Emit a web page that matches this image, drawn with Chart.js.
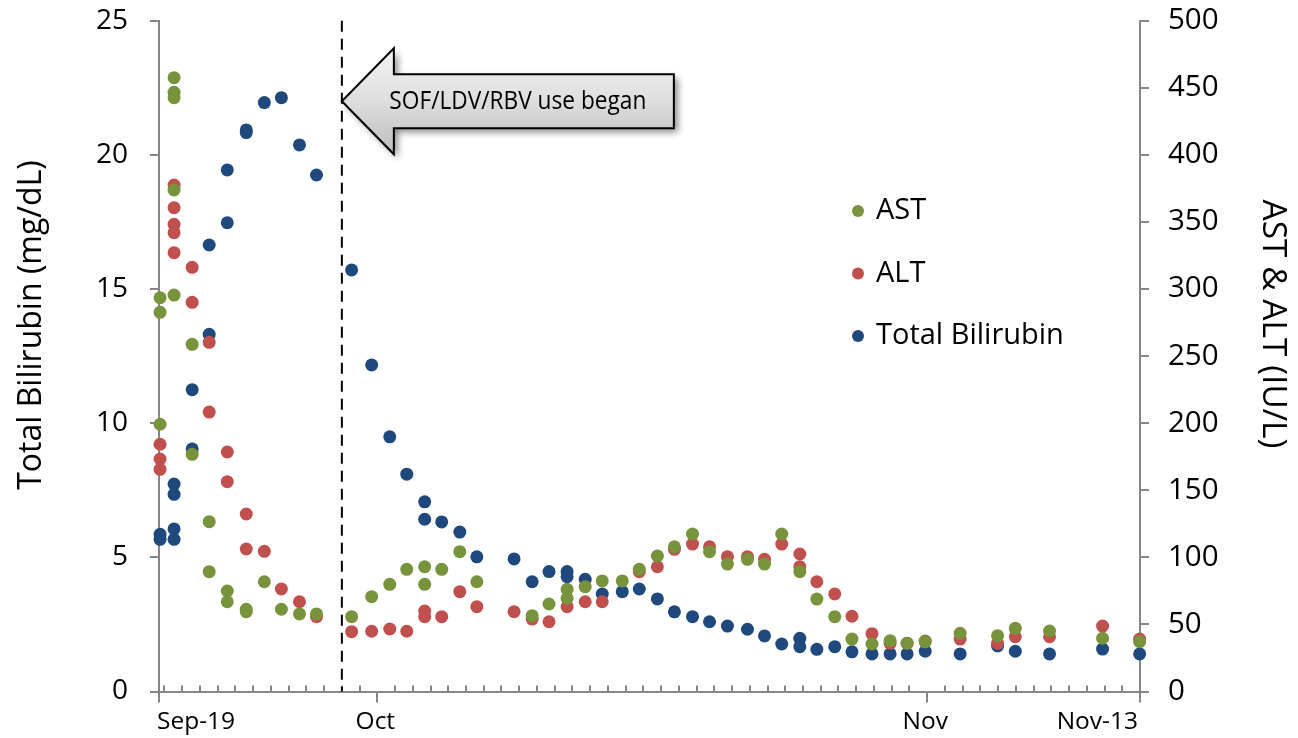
<!DOCTYPE html>
<html>
<head>
<meta charset="utf-8">
<script src="https://cdn.jsdelivr.net/npm/chart.js@4/dist/chart.umd.min.js"></script>
<style>
  html, body { margin: 0; padding: 0; background: #fff; }
  #wrap { width: 1298px; height: 738px; position: relative; }
</style>
</head>
<body>
<div id="wrap"><canvas id="labChart"></canvas></div>
<script>
// x values are days counted from Oct 1 (Oct 1 = 0)
const astDays = [-12.25, -12.25, -12.25, -11.46, -11.46, -11.46, -11.46, -11.46, -10.44, -10.44, -9.48, -9.48, -8.46, -8.46, -7.39, -7.39, -6.37, -5.41, -4.39, -3.43, -1.45, -0.32, 0.70, 1.66, 2.67, 2.67, 3.63, 4.65, 5.61, 8.73, 9.68, 10.70, 10.70, 11.72, 12.68, 13.81, 14.77, 15.79, 16.75, 17.77, 18.73, 19.74, 20.87, 21.83, 22.80, 23.82, 24.78, 25.79, 26.76, 27.89, 28.91, 29.87, 30.89, 32.86, 34.97, 35.97, 37.90, 40.89, 42.98];
const astValues = [293.5, 282.6, 199.2, 457.5, 446.6, 442.6, 373.8, 295.5, 258.8, 176.8, 126.6, 89.3, 74.9, 66.9, 61.3, 59.5, 81.8, 61.3, 57.8, 57.8, 55.8, 70.7, 79.9, 91.1, 93.0, 79.9, 91.1, 104.2, 81.8, 56.5, 65.2, 76.2, 69.5, 78.1, 82.4, 82.4, 91.1, 101.0, 107.9, 117.4, 104.2, 95.0, 98.5, 95.0, 117.4, 89.3, 68.9, 55.8, 39.1, 35.4, 37.9, 36.0, 37.0, 43.4, 41.6, 47.1, 45.1, 39.7, 37.1];

const altDays = [-12.25, -12.25, -12.25, -11.46, -11.46, -11.46, -11.46, -11.46, -10.44, -10.44, -9.48, -9.48, -8.46, -8.46, -7.39, -7.39, -6.37, -5.41, -4.39, -3.43, -1.45, -0.32, 0.70, 1.66, 2.67, 2.67, 3.63, 4.65, 5.61, 7.71, 8.73, 9.68, 10.70, 11.72, 12.68, 14.77, 15.79, 16.75, 17.77, 18.73, 19.74, 20.87, 21.83, 22.80, 23.82, 23.82, 24.78, 25.79, 26.76, 27.89, 28.91, 29.87, 30.89, 32.86, 34.97, 35.97, 37.90, 40.89, 42.98];
const altValues = [184.3, 173.3, 165.6, 377.5, 360.6, 348.2, 342.0, 327.1, 316.2, 290.1, 260.3, 208.3, 178.5, 156.4, 132.3, 106.2, 104.5, 76.4, 66.9, 55.8, 44.6, 44.9, 46.6, 44.9, 60.0, 55.8, 55.8, 74.4, 63.2, 59.5, 54.0, 52.0, 63.2, 66.9, 66.9, 89.3, 93.0, 106.0, 109.9, 107.9, 100.5, 100.5, 98.5, 109.9, 102.5, 93.0, 81.8, 72.7, 56.1, 43.1, 35.9, 35.9, 37.6, 39.1, 35.9, 40.8, 40.8, 48.8, 39.1];

const tbDays = [-12.25, -12.25, -11.46, -11.46, -11.46, -11.46, -10.44, -10.44, -9.48, -9.48, -8.46, -8.46, -7.39, -7.39, -6.37, -5.41, -4.39, -3.43, -1.45, -0.32, 0.70, 1.66, 2.67, 2.67, 3.63, 4.65, 5.61, 7.71, 8.73, 9.68, 10.70, 10.70, 11.72, 12.68, 13.81, 14.77, 15.79, 16.75, 17.77, 18.73, 19.74, 20.87, 21.83, 22.80, 23.82, 23.82, 24.78, 25.79, 26.76, 27.89, 28.91, 29.87, 30.89, 32.86, 34.97, 35.97, 37.90, 40.89, 42.98];
const tbValues = [5.86, 5.67, 7.73, 7.35, 6.06, 5.67, 11.25, 9.04, 16.64, 13.31, 19.44, 17.47, 20.93, 20.83, 21.95, 22.13, 20.37, 19.25, 15.71, 12.17, 9.49, 8.10, 7.07, 6.42, 6.32, 5.94, 5.02, 4.94, 4.09, 4.47, 4.47, 4.28, 4.18, 3.63, 3.72, 3.82, 3.45, 2.97, 2.79, 2.60, 2.44, 2.32, 2.07, 1.77, 1.98, 1.67, 1.57, 1.67, 1.48, 1.40, 1.40, 1.40, 1.50, 1.40, 1.70, 1.50, 1.40, 1.58, 1.40];

const xTickDays = [-12.31, 0, 31, 43];
const xTickLabels = ['Sep-19', 'Oct', 'Nov', 'Nov-13'];
const treatmentStartDay = -2;   // Sep 29
const noteText = 'SOF/LDV/RBV use began';

const axisGray = '#868686';
const font = 'Open Sans';

function toPoints(days, values) {
  return days.map((d, i) => ({ x: d, y: values[i] }));
}

// fixed axis widths so the plot area sits where it does in the original
function fixWidth(w) {
  return (scale) => {
    scale.width = w;
    scale.paddingTop = 0;
    scale.paddingBottom = 0;
  };
}

// dashed line, arrow callout, minor ticks, legend and axis titles
const extras = {
  id: 'extras',
  afterDraw(chart) {
    const ctx = chart.ctx;
    const area = chart.chartArea;
    const xs = chart.scales.x;
    const yl = chart.scales.y;

    // minor day ticks above the x axis
    ctx.save();
    ctx.strokeStyle = axisGray;
    ctx.lineWidth = 2;
    for (let d = -12; d <= 43; d++) {
      if (xTickDays.includes(d)) continue;
      const px = Math.round(xs.getPixelForValue(d));
      ctx.beginPath();
      ctx.moveTo(px, area.bottom);
      ctx.lineTo(px, area.bottom - 6);
      ctx.stroke();
    }
    ctx.restore();

    // dashed line where treatment started
    const lx = xs.getPixelForValue(treatmentStartDay);
    ctx.save();
    ctx.strokeStyle = '#000';
    ctx.lineWidth = 2;
    ctx.setLineDash([11, 7]);
    ctx.beginPath();
    ctx.moveTo(lx, area.top);
    ctx.lineTo(lx, area.bottom);
    ctx.stroke();
    ctx.restore();

    // arrow callout
    const tipX = lx;
    const tipY = yl.getPixelForValue(22.0);
    const headLen = 52, headHalf = 53, bodyHalf = 27, bodyLen = 280;
    const pts = [
      [tipX, tipY],
      [tipX + headLen, tipY - headHalf],
      [tipX + headLen, tipY - bodyHalf],
      [tipX + headLen + bodyLen, tipY - bodyHalf],
      [tipX + headLen + bodyLen, tipY + bodyHalf],
      [tipX + headLen, tipY + bodyHalf],
      [tipX + headLen, tipY + headHalf]
    ];
    ctx.save();
    ctx.beginPath();
    pts.forEach((p, i) => i ? ctx.lineTo(p[0], p[1]) : ctx.moveTo(p[0], p[1]));
    ctx.closePath();
    ctx.shadowColor = 'rgba(0,0,0,0.45)';
    ctx.shadowBlur = 7;
    ctx.shadowOffsetX = 4;
    ctx.shadowOffsetY = 4;
    const grad = ctx.createLinearGradient(0, tipY - headHalf, 0, tipY + headHalf);
    grad.addColorStop(0, '#f4f4f4');
    grad.addColorStop(0.5, '#dedede');
    grad.addColorStop(1, '#bcbcbc');
    ctx.fillStyle = grad;
    ctx.fill();
    ctx.shadowColor = 'transparent';
    ctx.strokeStyle = '#000';
    ctx.lineWidth = 2;
    ctx.lineJoin = 'miter';
    ctx.stroke();
    // condensed label squeezed to the width used in the original
    ctx.fillStyle = '#000';
    ctx.font = '25px "' + font + '"';
    ctx.textAlign = 'center';
    ctx.textBaseline = 'alphabetic';
    const w = ctx.measureText(noteText).width;
    ctx.translate(tipX + headLen + bodyLen / 2 - 16, tipY + 8);
    ctx.scale(257 / w, 1);
    ctx.fillText(noteText, 0, 0);
    ctx.restore();

    // legend
    ctx.save();
    ctx.font = '29px "' + font + '"';
    ctx.textBaseline = 'middle';
    chart.data.datasets.forEach((ds, i) => {
      const y = 211 + i * 62.5;
      ctx.fillStyle = ds.backgroundColor;
      ctx.beginPath();
      ctx.arc(858, y, 6, 0, Math.PI * 2);
      ctx.fill();
      ctx.fillStyle = '#000';
      ctx.fillText(ds.label, 876, y);
    });
    ctx.restore();

    // axis titles
    ctx.save();
    ctx.fillStyle = '#000';
    ctx.font = '32px "' + font + '"';
    ctx.textAlign = 'center';
    ctx.textBaseline = 'middle';
    ctx.translate(32, 325);
    ctx.rotate(-Math.PI / 2);
    ctx.fillText('Total Bilirubin (mg/dL)', 0, 0);
    ctx.restore();
    ctx.save();
    ctx.fillStyle = '#000';
    ctx.font = '33.5px "' + font + '"';
    ctx.textAlign = 'center';
    ctx.textBaseline = 'middle';
    ctx.translate(1273, 324);
    ctx.rotate(Math.PI / 2);
    ctx.fillText('AST & ALT (IU/L)', 0, 0);
    ctx.restore();
  }
};

const ctx = document.getElementById('labChart').getContext('2d');
const labChart = new Chart(ctx, {
  type: 'scatter',
  data: {
    datasets: [
      { label: 'AST', data: toPoints(astDays, astValues), yAxisID: 'y1', backgroundColor: '#77933C', clip: false },
      { label: 'ALT', data: toPoints(altDays, altValues), yAxisID: 'y1', backgroundColor: '#C0504D', clip: false },
      { label: 'Total Bilirubin', data: toPoints(tbDays, tbValues), yAxisID: 'y', backgroundColor: '#1F497D', clip: false }
    ]
  },
  options: {
    responsive: true,
    maintainAspectRatio: false,
    animation: false,
    layout: { padding: { top: 20.7, left: 0, right: 0, bottom: 0 } },
    elements: { point: { radius: 6.5, borderWidth: 0, hoverRadius: 6.5 } },
    plugins: { legend: { display: false }, tooltip: { enabled: false } },
    scales: {
      x: {
        type: 'linear',
        position: 'bottom',
        min: xTickDays[0],
        max: xTickDays[xTickDays.length - 1],
        afterBuildTicks: (scale) => { scale.ticks = xTickDays.map(v => ({ value: v })); },
        afterFit: (scale) => { scale.height = 46.5; },
        ticks: {
          autoSkip: false,
          maxRotation: 0,
          align: 'inner',
          padding: 5,
          labelOffset: -2,
          color: '#000',
          font: { family: font, size: 24.5 },
          callback: (v, i) => xTickLabels[i]
        },
        grid: { drawOnChartArea: false, color: axisGray, lineWidth: 2, tickLength: 11 },
        border: { color: axisGray, width: 2 }
      },
      y: {
        position: 'left',
        min: 0,
        max: 25,
        afterFit: fixWidth(159),
        ticks: { stepSize: 5, padding: 22, color: '#000', font: { family: font, size: 28 } },
        grid: { drawOnChartArea: false, color: axisGray, lineWidth: 2, tickLength: 9 },
        border: { color: axisGray, width: 2 }
      },
      y1: {
        position: 'right',
        min: 0,
        max: 500,
        afterFit: fixWidth(158),
        ticks: { stepSize: 50, padding: 19, color: '#000', font: { family: font, size: 29.5 } },
        grid: { drawOnChartArea: false, color: axisGray, lineWidth: 2, tickLength: 9 },
        border: { color: axisGray, width: 2 }
      }
    }
  },
  plugins: [extras]
});
</script>
</body>
</html>
